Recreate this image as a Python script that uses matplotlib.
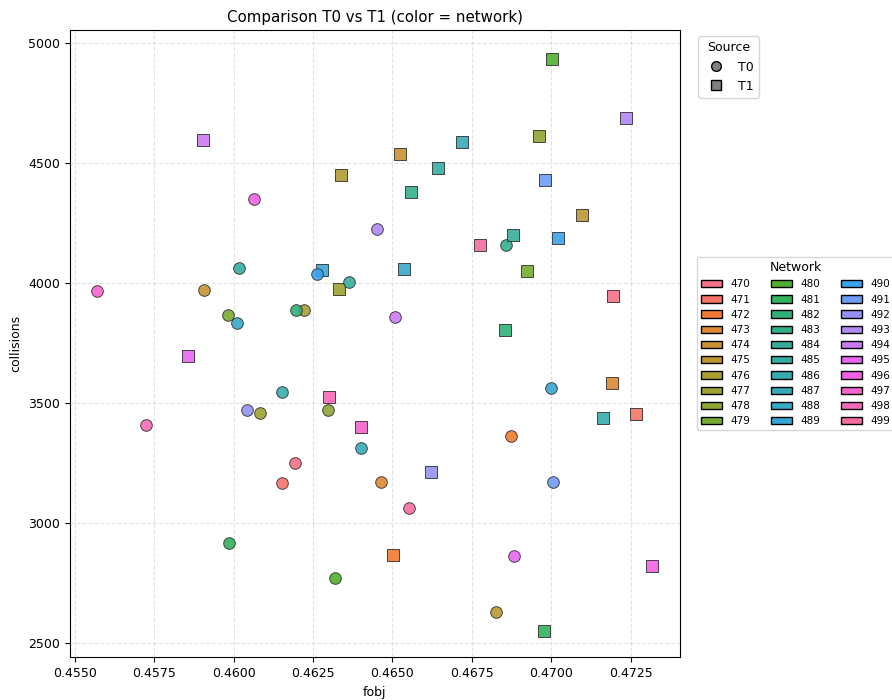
import matplotlib
matplotlib.use("Agg")
import matplotlib.pyplot as plt
import matplotlib.patches as mpatches
from matplotlib.lines import Line2D
import seaborn as sns

plt.rcParams["font.size"] = 9

networks = list(range(470, 500))

# T0 (circles), one per network 470..499
t0_fobj = [0.46192, 0.46152, 0.46874, 0.46463, 0.45907, 0.46827, 0.46223, 0.46083, 0.46296, 0.45982,
           0.46320, 0.45986, 0.46195, 0.46856, 0.46362, 0.46018, 0.46154, 0.46402, 0.46011, 0.46999,
           0.46262, 0.47005, 0.46042, 0.46451, 0.46508, 0.46881, 0.46063, 0.45569, 0.45726, 0.46552]
t0_coll = [3253, 3169, 3364, 3170, 3973, 2631, 3890, 3459, 3472, 3868,
           2773, 2919, 3890, 4159, 4004, 4065, 3545, 3315, 3834, 3564,
           4040, 3172, 3472, 4224, 3858, 2862, 4350, 3969, 3408, 3065]

# T1 (squares), one per network 470..499
t1_fobj = [0.47193, 0.47268, 0.46503, 0.47191, 0.46525, 0.47098, 0.46339, 0.46333, 0.46961, 0.46922,
           0.47002, 0.46977, 0.46855, 0.46559, 0.46879, 0.46642, 0.47164, 0.46719, 0.46536, 0.46279,
           0.47020, 0.46981, 0.46622, 0.47236, 0.45905, 0.45858, 0.47317, 0.46402, 0.46300, 0.46777]
t1_coll = [3947, 3456, 2870, 3584, 4537, 4286, 4451, 3975, 4611, 4050,
           4932, 2552, 3804, 4380, 4200, 4481, 3439, 4588, 4058, 4053,
           4189, 4430, 3215, 4689, 4598, 3695, 2823, 3400, 3528, 4161]

palette = sns.color_palette("husl", len(networks))

fig = plt.figure(figsize=(8.92, 7.0), dpi=100)
ax = fig.add_axes([0.078, 0.061, 0.684, 0.896])

for i, net in enumerate(networks):
    c = palette[i]
    ax.scatter(t0_fobj[i], t0_coll[i], s=70, marker="o", color=c,
               edgecolor="#333333", linewidth=0.7, alpha=0.9, zorder=3)
    ax.scatter(t1_fobj[i], t1_coll[i], s=70, marker="s", color=c,
               edgecolor="#333333", linewidth=0.7, alpha=0.9, zorder=3)

ax.set_xlim(0.45484, 0.47404)
ax.set_ylim(2442, 5054)
ax.set_xticks([0.455, 0.4575, 0.46, 0.4625, 0.465, 0.4675, 0.47, 0.4725])
ax.set_xticklabels(["0.4550", "0.4575", "0.4600", "0.4625", "0.4650", "0.4675", "0.4700", "0.4725"])
ax.grid(True, linestyle="--", alpha=0.35, zorder=0)
ax.set_title("Comparison T0 vs T1 (color = network)")
ax.set_xlabel("fobj")
ax.set_ylabel("collisions")

src_handles = [
    Line2D([0], [0], marker="o", color="w", markerfacecolor="gray", markeredgecolor="black",
           markersize=7, label="T0"),
    Line2D([0], [0], marker="s", color="w", markerfacecolor="gray", markeredgecolor="black",
           markersize=7, label="T1"),
]
leg1 = ax.legend(handles=src_handles, title="Source", loc="upper left",
                 bbox_to_anchor=(1.02, 1.0))
ax.add_artist(leg1)

net_handles = [mpatches.Patch(facecolor=palette[i], edgecolor="black", label=str(n))
               for i, n in enumerate(networks)]
ax.legend(handles=net_handles, title="Network", loc="center left",
          bbox_to_anchor=(1.02, 0.5), ncol=3, fontsize="small")

fig.savefig("out.png", dpi=100)
